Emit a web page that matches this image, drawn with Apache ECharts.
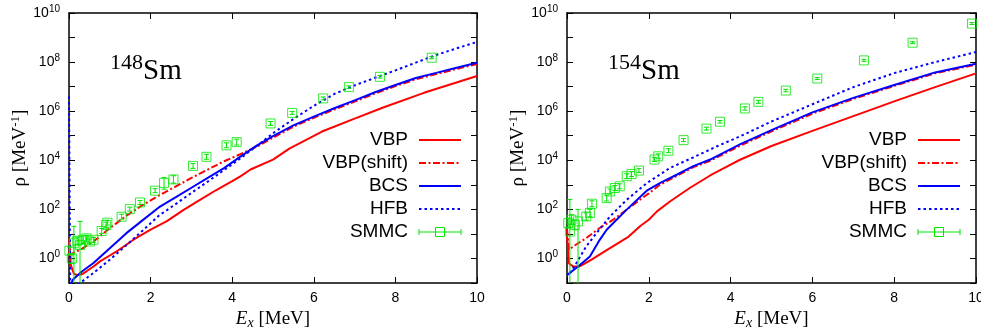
<!DOCTYPE html>
<html><head><meta charset="utf-8">
<script src="https://cdn.jsdelivr.net/npm/echarts@6/dist/echarts.min.js"></script>
<style>html,body{margin:0;padding:0;background:#fff}#c{width:981px;height:331px}</style>
</head><body><div id="c"></div>
<script>
// ---------------- data ----------------
const xTicks = [0, 2, 4, 6, 8, 10];
const yLabelExponents = [0, 2, 4, 6, 8, 10];
const seriesNames = ['VBP', 'VBP(shift)', 'BCS', 'HFB', 'SMMC'];
const isotopes = [['148', 'Sm'], ['154', 'Sm']];

// 148Sm  [Ex (MeV), rho (MeV^-1)]
const vbp148 = [[0,2.0],[0.05,0.5],[0.12,0.24],[0.2,0.21],[0.3,0.22],[0.43,0.30],[0.6,0.47],[0.76,0.76],[1.0,1.32],[1.2,2.1],[1.58,5.8],[2.0,15],[2.4,33],[2.8,93],[3.2,240],[3.6,600],[4.0,1.4e3],[4.2,2.2e3],[4.45,4.2e3],[5.0,1.07e4],[5.4,3.0e4],[6.2,1.48e5],[7.0,5.0e5],[7.7,1.41e6],[8.7,5.6e6],[10,2.7e7]];
const vbpShift148 = [[0,6.3],[0.04,1.41],[0.1,1.66],[0.3,2.4],[0.6,4.9],[1.0,17],[1.4,54],[1.8,148],[2.2,363],[2.6,832],[3.0,1.9e3],[3.4,4.17e3],[3.8,9.1e3],[4.2,1.78e4],[4.6,3.55e4],[5.0,8.3e4],[5.5,2.34e5],[6.0,5.37e5],[6.5,1.17e6],[7.0,2.45e6],[7.5,5.25e6],[8.0,1.05e7],[8.5,2.0e7],[9.0,3.24e7],[9.5,5.25e7],[10,8.3e7]];
const bcs148 = [[0.02,0.079],[0.1,0.138],[0.3,0.28],[0.6,0.65],[1.0,2.63],[1.4,10.5],[1.8,35.5],[2.2,120],[2.6,302],[3.0,759],[3.4,1.91e3],[3.8,4.79e3],[4.2,1.41e4],[4.6,3.98e4],[5.0,9.55e4],[5.5,2.63e5],[6.0,6.03e5],[6.5,1.32e6],[7.0,2.75e6],[7.5,5.89e6],[8.0,1.17e7],[8.5,2.24e7],[9.0,3.63e7],[9.5,5.89e7],[10,9.33e7]];
const hfb148 = [[0,4e6],[0.03,0.05],[0.27,0.1],[0.6,0.257],[1.0,0.891],[1.4,3.39],[1.8,13.5],[2.2,55],[2.6,158],[3.0,468],[3.4,1.35e3],[3.8,3.98e3],[4.2,1.2e4],[4.6,3.8e4],[5.0,1.26e5],[5.5,4.79e5],[6.0,1.66e6],[6.5,5.01e6],[7.0,1.12e7],[7.5,2.29e7],[8.0,4.57e7],[8.5,9.55e7],[9.0,1.95e8],[9.5,3.63e8],[10,6.61e8]];
// SMMC: [Ex, rho, rho_low, rho_high]
const smmc148 = [[0.01,2.09,1.48,2.95],[0.07,1.0,0.63,1.58],[0.12,4.17,0.001,20.4],[0.2,5.25,3.72,7.41],[0.27,3.55,0.001,32.4],[0.35,5.75,4.07,8.13],[0.43,6.61,5.01,8.71],[0.51,4.9,3.89,6.17],[0.6,5.75,4.57,7.24],[0.8,13.2,10.5,16.6],[0.91,22.9,17.4,30.2],[0.94,28.8,22.9,36.3],[1.29,50.1,39.8,63.1],[1.49,102,85.1,123],[1.74,191,158,229],[2.11,575,479,692],[2.33,1.2e3,661,2.0e3],[2.56,1.66e3,1.17e3,2.34e3],[3.04,5.89e3,4.68e3,7.41e3],[3.37,1.38e4,1.1e4,1.74e4],[3.86,4.07e4,3.24e4,5.13e4],[4.11,5.5e4,4.17e4,7.24e4],[4.94,3.16e5,2.63e5,3.8e5],[5.47,8.51e5,7.41e5,9.77e5],[6.23,3.31e6,2.88e6,3.8e6],[6.86,9.55e6,8.51e6,1.07e7],[7.62,2.51e7,2.24e7,2.82e7],[8.89,1.51e8,1.38e8,1.66e8]];

// 154Sm
const vbp154 = [[0,7.9],[0.05,0.63],[0.15,0.47],[0.3,0.47],[0.6,0.89],[1.0,2.34],[1.5,7.59],[1.8,21.4],[2.0,38],[2.2,83],[2.5,200],[3.0,741],[3.5,2.4e3],[4.0,6.6e3],[4.23,1.05e4],[5.0,3.8e4],[6.0,1.58e5],[7.0,6.31e5],[8.0,2.51e6],[9.0,9.55e6],[10,3.47e7]];
const vbpShift154 = [[0,15.8],[0.05,2.24],[0.15,3.09],[0.47,6.76],[0.8,17.4],[1.13,38],[1.46,97.7],[1.78,245],[2.0,447],[2.27,1.0e3],[2.68,2.29e3],[3.09,5.25e3],[3.5,9.55e3],[4.24,3.98e4],[5.0,1.51e5],[6.0,7.94e5],[7.0,3.16e6],[8.0,1.07e7],[9.0,3.47e7],[10,7.94e7]];
const bcs154 = [[0,0.21],[0.27,0.47],[0.56,1.2],[0.8,5.75],[0.97,14.8],[1.46,97.7],[1.95,575],[2.27,1.17e3],[2.68,2.57e3],[3.09,5.75e3],[3.5,1.07e4],[4.24,4.57e4],[5.0,1.7e5],[6.0,8.9e5],[7.0,3.47e6],[8.0,1.17e7],[9.0,3.8e7],[10,8.5e7]];
const hfb154 = [[0.07,0.251],[0.23,0.646],[0.47,3.09],[0.72,10.7],[1.05,51.3],[1.46,245],[1.95,1.17e3],[2.52,4.9e3],[3.09,1.32e4],[3.67,3.72e4],[4.24,9.55e4],[5.0,3.8e5],[6.0,1.91e6],[7.0,9.55e6],[8.0,3.55e7],[9.0,1.0e8],[10,2.57e8]];
const smmc154 = [[0.03,27.5,17.4,43.7],[0.07,12.6,0.001,251],[0.11,38.0,24.0,60.3],[0.19,23.4,14.8,37.2],[0.27,32.4,0.001,100],[0.47,51.3,36.3,72.4],[0.56,70.8,50.1,100],[0.61,170,129,224],[0.97,288,219,380],[1.05,537,427,676],[1.17,741,589,933],[1.29,871,692,1096],[1.46,2.24e3,1.78e3,2.82e3],[1.58,2.75e3,2.19e3,3.47e3],[1.76,3.8e3,3.16e3,4.57e3],[2.14,1.07e4,8.91e3,1.29e4],[2.23,1.45e4,1.15e4,1.82e4],[2.48,2.45e4,2.04e4,2.95e4],[2.85,6.61e4,5.75e4,7.59e4],[3.41,1.95e5,1.7e5,2.24e5],[3.74,3.72e5,3.31e5,4.17e5],[4.35,1.29e6,1.1e6,1.51e6],[4.68,2.4e6,2.09e6,2.75e6],[5.35,6.92e6,6.17e6,7.76e6],[6.12,2.14e7,1.95e7,2.34e7],[7.26,1.17e8,1.07e8,1.29e8],[8.45,6.17e8,5.62e8,6.76e8],[9.9,3.72e9,3.39e9,4.07e9]];

// ---------------- styling ----------------
const RED = '#ff0000', BLUE = '#0000ff', GREEN = '#00e600';
const SANS = '"Liberation Sans", Arial, sans-serif';
const SERIF = '"Liberation Serif", "Times New Roman", serif';
const grids = [
  {left: 69, top: 13, width: 408, height: 270, containLabel: false, outerBoundsMode: 'none'},
  {left: 567, top: 13, width: 409, height: 270, containLabel: false, outerBoundsMode: 'none'}
];
const panels = [
  {vbp: vbp148, shift: vbpShift148, bcs: bcs148, hfb: hfb148, smmc: smmc148, iso: isotopes[0]},
  {vbp: vbp154, shift: vbpShift154, bcs: bcs154, hfb: hfb154, smmc: smmc154, iso: isotopes[1]}
];
const lineStyles = [
  {color: RED, width: 2, type: 'solid'},
  {color: RED, width: 2, type: [7, 2.5, 2, 2.5]},
  {color: BLUE, width: 2, type: 'solid'},
  {color: BLUE, width: 2, type: [2.5, 3]}
];

const axisLine = {show: true, onZero: false, lineStyle: {color: '#000', width: 1.5}};
const axisTick = {show: true, inside: true, length: 6, lineStyle: {color: '#000', width: 1}};

const xAxes = [], yAxes = [], series = [], graphics = [];

function errRender(params, api) {
  const x = api.value(0), lo = api.value(2), hi = api.value(3);
  const pLo = api.coord([x, lo]), pHi = api.coord([x, hi]);
  const cs = params.coordSys;
  const top = cs.y, bot = cs.y + cs.height;
  const y1 = Math.max(top, Math.min(bot, pHi[1]));
  const y2 = Math.max(top, Math.min(bot, pLo[1]));
  const cx = pLo[0], w = 2.5;
  const st = {stroke: GREEN, lineWidth: 1, fill: null};
  const ch = [{type: 'line', shape: {x1: cx, y1: y1, x2: cx, y2: y2}, style: st}];
  if (pHi[1] >= top && pHi[1] <= bot) ch.push({type: 'line', shape: {x1: cx - w, y1: pHi[1], x2: cx + w, y2: pHi[1]}, style: st});
  if (pLo[1] >= top && pLo[1] <= bot) ch.push({type: 'line', shape: {x1: cx - w, y1: pLo[1], x2: cx + w, y2: pLo[1]}, style: st});
  return {type: 'group', children: ch};
}

panels.forEach((p, i) => {
  const g = grids[i];
  xAxes.push({
    gridIndex: i, type: 'value', min: 0, max: 10, interval: 2, position: 'bottom',
    axisLine, axisTick, splitLine: {show: false},
    axisLabel: {show: true, margin: 8, color: '#000', fontSize: 14, fontFamily: SANS,
      formatter: v => xTicks.includes(v) ? String(v) : ''},
    name: '{i|E}{s|x}{n| [MeV]}', nameLocation: 'middle', nameGap: 25,
    nameTextStyle: {rich: {
      i: {fontFamily: SERIF, fontStyle: 'italic', fontSize: 19, color: '#000'},
      s: {fontFamily: SERIF, fontStyle: 'italic', fontSize: 14, color: '#000', padding: [8, 0, 0, 0]},
      n: {fontFamily: SERIF, fontSize: 19, color: '#000'}
    }}
  });
  xAxes.push({
    gridIndex: i, type: 'value', min: 0, max: 10, interval: 2, position: 'top',
    axisLine, axisTick, splitLine: {show: false}, axisLabel: {show: false}
  });
  yAxes.push({
    gridIndex: i, type: 'log', logBase: 10, min: 0.1, max: 1e10, interval: 1, splitNumber: 11, position: 'left',
    axisLine, axisTick, splitLine: {show: false}, minorTick: {show: false},
    axisLabel: {show: true, margin: 9, interval: 0,
      formatter: v => { const e = Math.round(Math.log10(v)); return yLabelExponents.includes(e) ? '{b|10}{e|' + e + '}' : ''; },
      rich: {
        b: {fontSize: 14, fontFamily: SANS, color: '#000'},
        e: {fontSize: 10, fontFamily: SANS, color: '#000', padding: [0, 0, 8, 0]}
      }},
    name: '{a|ρ [MeV}{e|-1}{a|]}', nameLocation: 'middle', nameGap: 36,
    nameTextStyle: {rich: {
      a: {fontFamily: SERIF, fontSize: 19, color: '#000'},
      e: {fontFamily: SERIF, fontSize: 13, color: '#000', padding: [0, 0, 9, 0]}
    }}
  });
  yAxes.push({
    gridIndex: i, type: 'log', logBase: 10, min: 0.1, max: 1e10, interval: 1, splitNumber: 11, position: 'right',
    axisLine, axisTick, splitLine: {show: false}, axisLabel: {show: false}
  });
  const curves = [p.vbp, p.shift, p.bcs, p.hfb];
  curves.forEach((d, k) => {
    series.push({
      type: 'line', name: seriesNames[k], xAxisIndex: 2 * i, yAxisIndex: 2 * i,
      data: d, showSymbol: false, symbol: 'none', smooth: false, clip: true,
      lineStyle: lineStyles[k], z: 2 + k, silent: true
    });
  });
  series.push({
    type: 'custom', name: 'SMMC err', xAxisIndex: 2 * i, yAxisIndex: 2 * i,
    data: p.smmc, renderItem: errRender, encode: {x: 0, y: 1}, z: 7, silent: true
  });
  series.push({
    type: 'scatter', name: 'SMMC', xAxisIndex: 2 * i, yAxisIndex: 2 * i,
    data: p.smmc.map(r => [r[0], r[1]]), symbol: 'rect', symbolSize: 9, z: 8, silent: true,
    itemStyle: {color: 'rgba(0,0,0,0)', borderColor: GREEN, borderWidth: 1}
  });

  // isotope label
  graphics.push({
    type: 'text', x: g.left + 41, y: 91,
    style: {text: '{a|' + p.iso[0] + '}{b|' + p.iso[1] + '}', textVerticalAlign: 'bottom', textAlign: 'left',
      rich: {
        a: {fontFamily: SERIF, fontSize: 22, fill: '#000', padding: [0, 0, 17, 0]},
        b: {fontFamily: SERIF, fontSize: 29, fill: '#000'}
      }}
  });
  // legend
  const right = g.left + g.width;
  const rows = [140, 163, 186, 209, 232];
  const x1 = right - 58, x2 = right - 16;
  seriesNames.forEach((nm, k) => {
    graphics.push({type: 'text', x: right - 69, y: rows[k],
      style: {text: nm, textAlign: 'right', textVerticalAlign: 'middle', fontSize: 19, fontFamily: SANS, fill: '#000'}});
    if (k < 4) {
      const ls = lineStyles[k];
      graphics.push({type: 'line', shape: {x1, y1: rows[k], x2, y2: rows[k]},
        style: {stroke: ls.color, lineWidth: ls.width, lineDash: Array.isArray(ls.type) ? ls.type : null}});
    } else {
      const st = {stroke: GREEN, lineWidth: 1, fill: null};
      const cx = (x1 + x2) / 2, y = rows[k];
      graphics.push({type: 'line', shape: {x1, y1: y, x2, y2: y}, style: st});
      graphics.push({type: 'line', shape: {x1, y1: y - 3, x2: x1, y2: y + 3}, style: st});
      graphics.push({type: 'line', shape: {x1: x2, y1: y - 3, x2: x2, y2: y + 3}, style: st});
      graphics.push({type: 'rect', shape: {x: cx - 4.5, y: y - 4.5, width: 9, height: 9}, style: {stroke: GREEN, lineWidth: 1, fill: 'rgba(0,0,0,0)'}});
    }
  });
});

const chart = echarts.init(document.getElementById('c'), null, {renderer: 'canvas'});
chart.setOption({
  animation: false,
  backgroundColor: '#fff',
  grid: grids,
  xAxis: xAxes,
  yAxis: yAxes,
  series: series,
  graphic: graphics
});
</script></body></html>
